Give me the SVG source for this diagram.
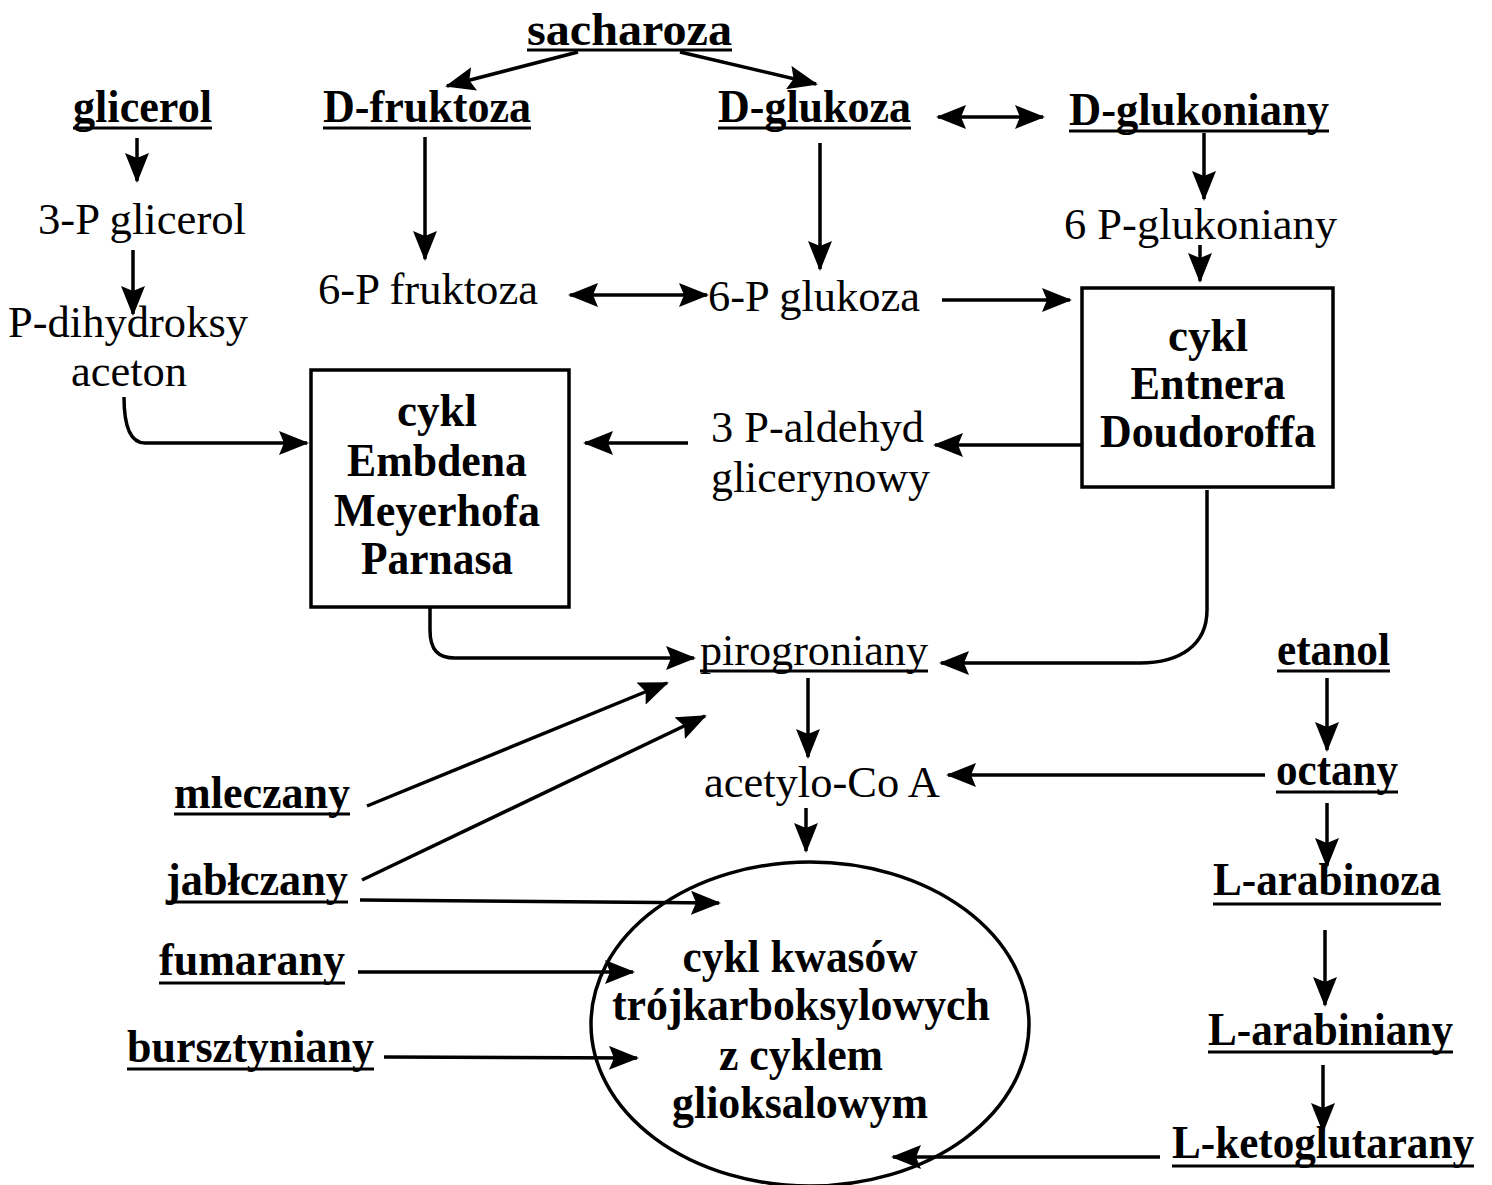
<svg xmlns="http://www.w3.org/2000/svg" width="1492" height="1185" viewBox="0 0 1492 1185">
<defs>
<style>
text{font-family:"Liberation Serif","Times New Roman",serif;font-size:44px;fill:#000}
.b{font-weight:bold;font-size:46px}
.c{text-anchor:middle}
.u{stroke:#000;stroke-width:3}
.box{fill:#fff;stroke:#000;stroke-width:3.5}
.ln{fill:none;stroke:#000;stroke-width:3.5;marker-end:url(#ah)}
.dl{fill:none;stroke:#000;stroke-width:3.5;marker-end:url(#ah);marker-start:url(#as)}
</style>
<marker id="ah" markerUnits="userSpaceOnUse" markerWidth="30" markerHeight="24" refX="28" refY="12" orient="auto">
<path d="M0,0 L30,12 L0,24 L5,12 z" fill="#000"/>
</marker>
<marker id="as" markerUnits="userSpaceOnUse" markerWidth="30" markerHeight="24" refX="2" refY="12" orient="auto">
<path d="M30,0 L0,12 L30,24 L25,12 z" fill="#000"/>
</marker>
</defs>
<rect width="1492" height="1185" fill="#fff"/>

<g id="connectors">
<line class="ln" x1="578" y1="52" x2="447" y2="86"/>
<line class="ln" x1="680" y1="52" x2="816" y2="84"/>
<line class="dl" x1="938" y1="117" x2="1043" y2="117"/>
<line class="ln" x1="137" y1="138" x2="137" y2="181"/>
<line class="ln" x1="133" y1="250" x2="133" y2="314"/>
<line class="ln" x1="425" y1="137" x2="425" y2="259"/>
<line class="ln" x1="820" y1="143" x2="820" y2="269"/>
<line class="ln" x1="1204" y1="133" x2="1204" y2="199"/>
<line class="ln" x1="1200" y1="245" x2="1200" y2="281"/>
<line class="dl" x1="570" y1="295" x2="707" y2="295"/>
<line class="ln" x1="942" y1="300" x2="1070" y2="300"/>
<path class="ln" d="M124,397 C124,420 128,443 145,443 L307,443"/>
<line class="ln" x1="1082" y1="445" x2="935" y2="445"/>
<line class="ln" x1="688" y1="443" x2="585" y2="443"/>
<path class="ln" d="M430,607 L430,630 C430,650 438,658 455,658 L694,658"/>
<path class="ln" d="M1207,490 L1207,610 C1207,645 1180,663 1140,663 L941,663"/>
<line class="ln" x1="367" y1="806" x2="667" y2="683"/>
<line class="ln" x1="362" y1="880" x2="705" y2="716"/>
<line class="ln" x1="360" y1="900" x2="719" y2="903"/>
<line class="ln" x1="358" y1="972" x2="633" y2="972"/>
<line class="ln" x1="384" y1="1057" x2="637" y2="1058"/>
<line class="ln" x1="808" y1="678" x2="808" y2="757"/>
<line class="ln" x1="806" y1="808" x2="806" y2="851"/>
<line class="ln" x1="1327" y1="678" x2="1327" y2="750"/>
<line class="ln" x1="1265" y1="775" x2="948" y2="775"/>
<line class="ln" x1="1327" y1="803" x2="1327" y2="866"/>
<line class="ln" x1="1325" y1="930" x2="1325" y2="1005"/>
<line class="ln" x1="1323" y1="1065" x2="1323" y2="1131"/>
<line class="ln" x1="1160" y1="1157" x2="893" y2="1157"/>
</g>

<g id="sacharoza"><text class="b" x="527" y="45" textLength="205" lengthAdjust="spacingAndGlyphs">sacharoza</text><line class="u" x1="527" y1="50" x2="732" y2="50"/></g>
<g id="glicerol"><text class="b" x="73" y="122" textLength="139" lengthAdjust="spacingAndGlyphs">glicerol</text><line class="u" x1="73" y1="128" x2="212" y2="128"/></g>
<g id="d-fruktoza"><text class="b" x="323" y="122" textLength="208" lengthAdjust="spacingAndGlyphs">D-fruktoza</text><line class="u" x1="323" y1="128" x2="531" y2="128"/></g>
<g id="d-glukoza"><text class="b" x="718" y="122" textLength="193" lengthAdjust="spacingAndGlyphs">D-glukoza</text><line class="u" x1="718" y1="128" x2="911" y2="128"/></g>
<g id="d-glukoniany"><text class="b" x="1069" y="125" textLength="260" lengthAdjust="spacingAndGlyphs">D-glukoniany</text><line class="u" x1="1069" y1="131" x2="1329" y2="131"/></g>
<g id="3p-glicerol"><text x="38" y="234" textLength="208" lengthAdjust="spacingAndGlyphs">3-P glicerol</text></g>
<g id="6p-glukoniany"><text x="1064" y="239" textLength="273" lengthAdjust="spacingAndGlyphs">6 P-glukoniany</text></g>
<g id="6p-fruktoza"><text x="318" y="304" textLength="220" lengthAdjust="spacingAndGlyphs">6-P fruktoza</text></g>
<g id="6p-glukoza"><text x="708" y="311" textLength="212" lengthAdjust="spacingAndGlyphs">6-P glukoza</text></g>
<g id="p-dihydroksyaceton"><text x="8" y="337" textLength="240" lengthAdjust="spacingAndGlyphs">P-dihydroksy</text><text x="71" y="386" textLength="116" lengthAdjust="spacingAndGlyphs">aceton</text></g>

<g id="cykl-emp"><rect class="box" x="311" y="370" width="258" height="237"/>
<text class="b c" x="437" y="426" textLength="80" lengthAdjust="spacingAndGlyphs">cykl</text>
<text class="b c" x="437" y="476" textLength="180" lengthAdjust="spacingAndGlyphs">Embdena</text>
<text class="b c" x="437" y="526" textLength="206" lengthAdjust="spacingAndGlyphs">Meyerhofa</text>
<text class="b c" x="437" y="574" textLength="152" lengthAdjust="spacingAndGlyphs">Parnasa</text></g>

<g id="cykl-ed"><rect class="box" x="1082" y="288" width="251" height="199"/>
<text class="b c" x="1208" y="351" textLength="80" lengthAdjust="spacingAndGlyphs">cykl</text>
<text class="b c" x="1208" y="399" textLength="155" lengthAdjust="spacingAndGlyphs">Entnera</text>
<text class="b c" x="1208" y="447" textLength="216" lengthAdjust="spacingAndGlyphs">Doudoroffa</text></g>

<g id="3p-aldehyd"><text x="711" y="442" textLength="213" lengthAdjust="spacingAndGlyphs">3 P-aldehyd</text><text x="711" y="492" textLength="219" lengthAdjust="spacingAndGlyphs">glicerynowy</text></g>
<g id="pirogroniany"><text x="700" y="665" textLength="228" lengthAdjust="spacingAndGlyphs">pirogroniany</text><line class="u" x1="700" y1="671" x2="928" y2="671"/></g>
<g id="etanol"><text class="b" x="1277" y="665" textLength="113" lengthAdjust="spacingAndGlyphs">etanol</text><line class="u" x1="1277" y1="671" x2="1390" y2="671"/></g>
<g id="acetylo-coa"><text x="704" y="797" textLength="236" lengthAdjust="spacingAndGlyphs">acetylo-Co A</text></g>
<g id="octany"><text class="b" x="1276" y="785" textLength="122" lengthAdjust="spacingAndGlyphs">octany</text><line class="u" x1="1276" y1="792" x2="1398" y2="792"/></g>
<g id="mleczany"><text class="b" x="174" y="808" textLength="176" lengthAdjust="spacingAndGlyphs">mleczany</text><line class="u" x1="174" y1="814" x2="350" y2="814"/></g>
<g id="jablczany"><text class="b" x="166" y="895" textLength="182" lengthAdjust="spacingAndGlyphs">jabłczany</text><line class="u" x1="166" y1="902" x2="348" y2="902"/></g>
<g id="fumarany"><text class="b" x="159" y="975" textLength="186" lengthAdjust="spacingAndGlyphs">fumarany</text><line class="u" x1="159" y1="983" x2="345" y2="983"/></g>
<g id="bursztyniany"><text class="b" x="127" y="1062" textLength="247" lengthAdjust="spacingAndGlyphs">bursztyniany</text><line class="u" x1="127" y1="1069" x2="374" y2="1069"/></g>
<g id="l-arabinoza"><text class="b" x="1213" y="895" textLength="228" lengthAdjust="spacingAndGlyphs">L-arabinoza</text><line class="u" x1="1213" y1="904" x2="1441" y2="904"/></g>
<g id="l-arabiniany"><text class="b" x="1208" y="1045" textLength="245" lengthAdjust="spacingAndGlyphs">L-arabiniany</text><line class="u" x1="1208" y1="1052" x2="1453" y2="1052"/></g>
<g id="l-ketoglutarany"><text class="b" x="1172" y="1158" textLength="302" lengthAdjust="spacingAndGlyphs">L-ketoglutarany</text><line class="u" x1="1172" y1="1166" x2="1474" y2="1166"/></g>

<g id="cykl-krebsa"><ellipse cx="810" cy="1024" rx="219" ry="162" fill="none" stroke="#000" stroke-width="3.5"/>
<text class="b c" x="800" y="972" textLength="235" lengthAdjust="spacingAndGlyphs">cykl kwasów</text>
<text class="b c" x="801" y="1020" textLength="378" lengthAdjust="spacingAndGlyphs">trójkarboksylowych</text>
<text class="b c" x="801" y="1070" textLength="164" lengthAdjust="spacingAndGlyphs">z cyklem</text>
<text class="b c" x="800" y="1118" textLength="256" lengthAdjust="spacingAndGlyphs">glioksalowym</text></g>
</svg>
